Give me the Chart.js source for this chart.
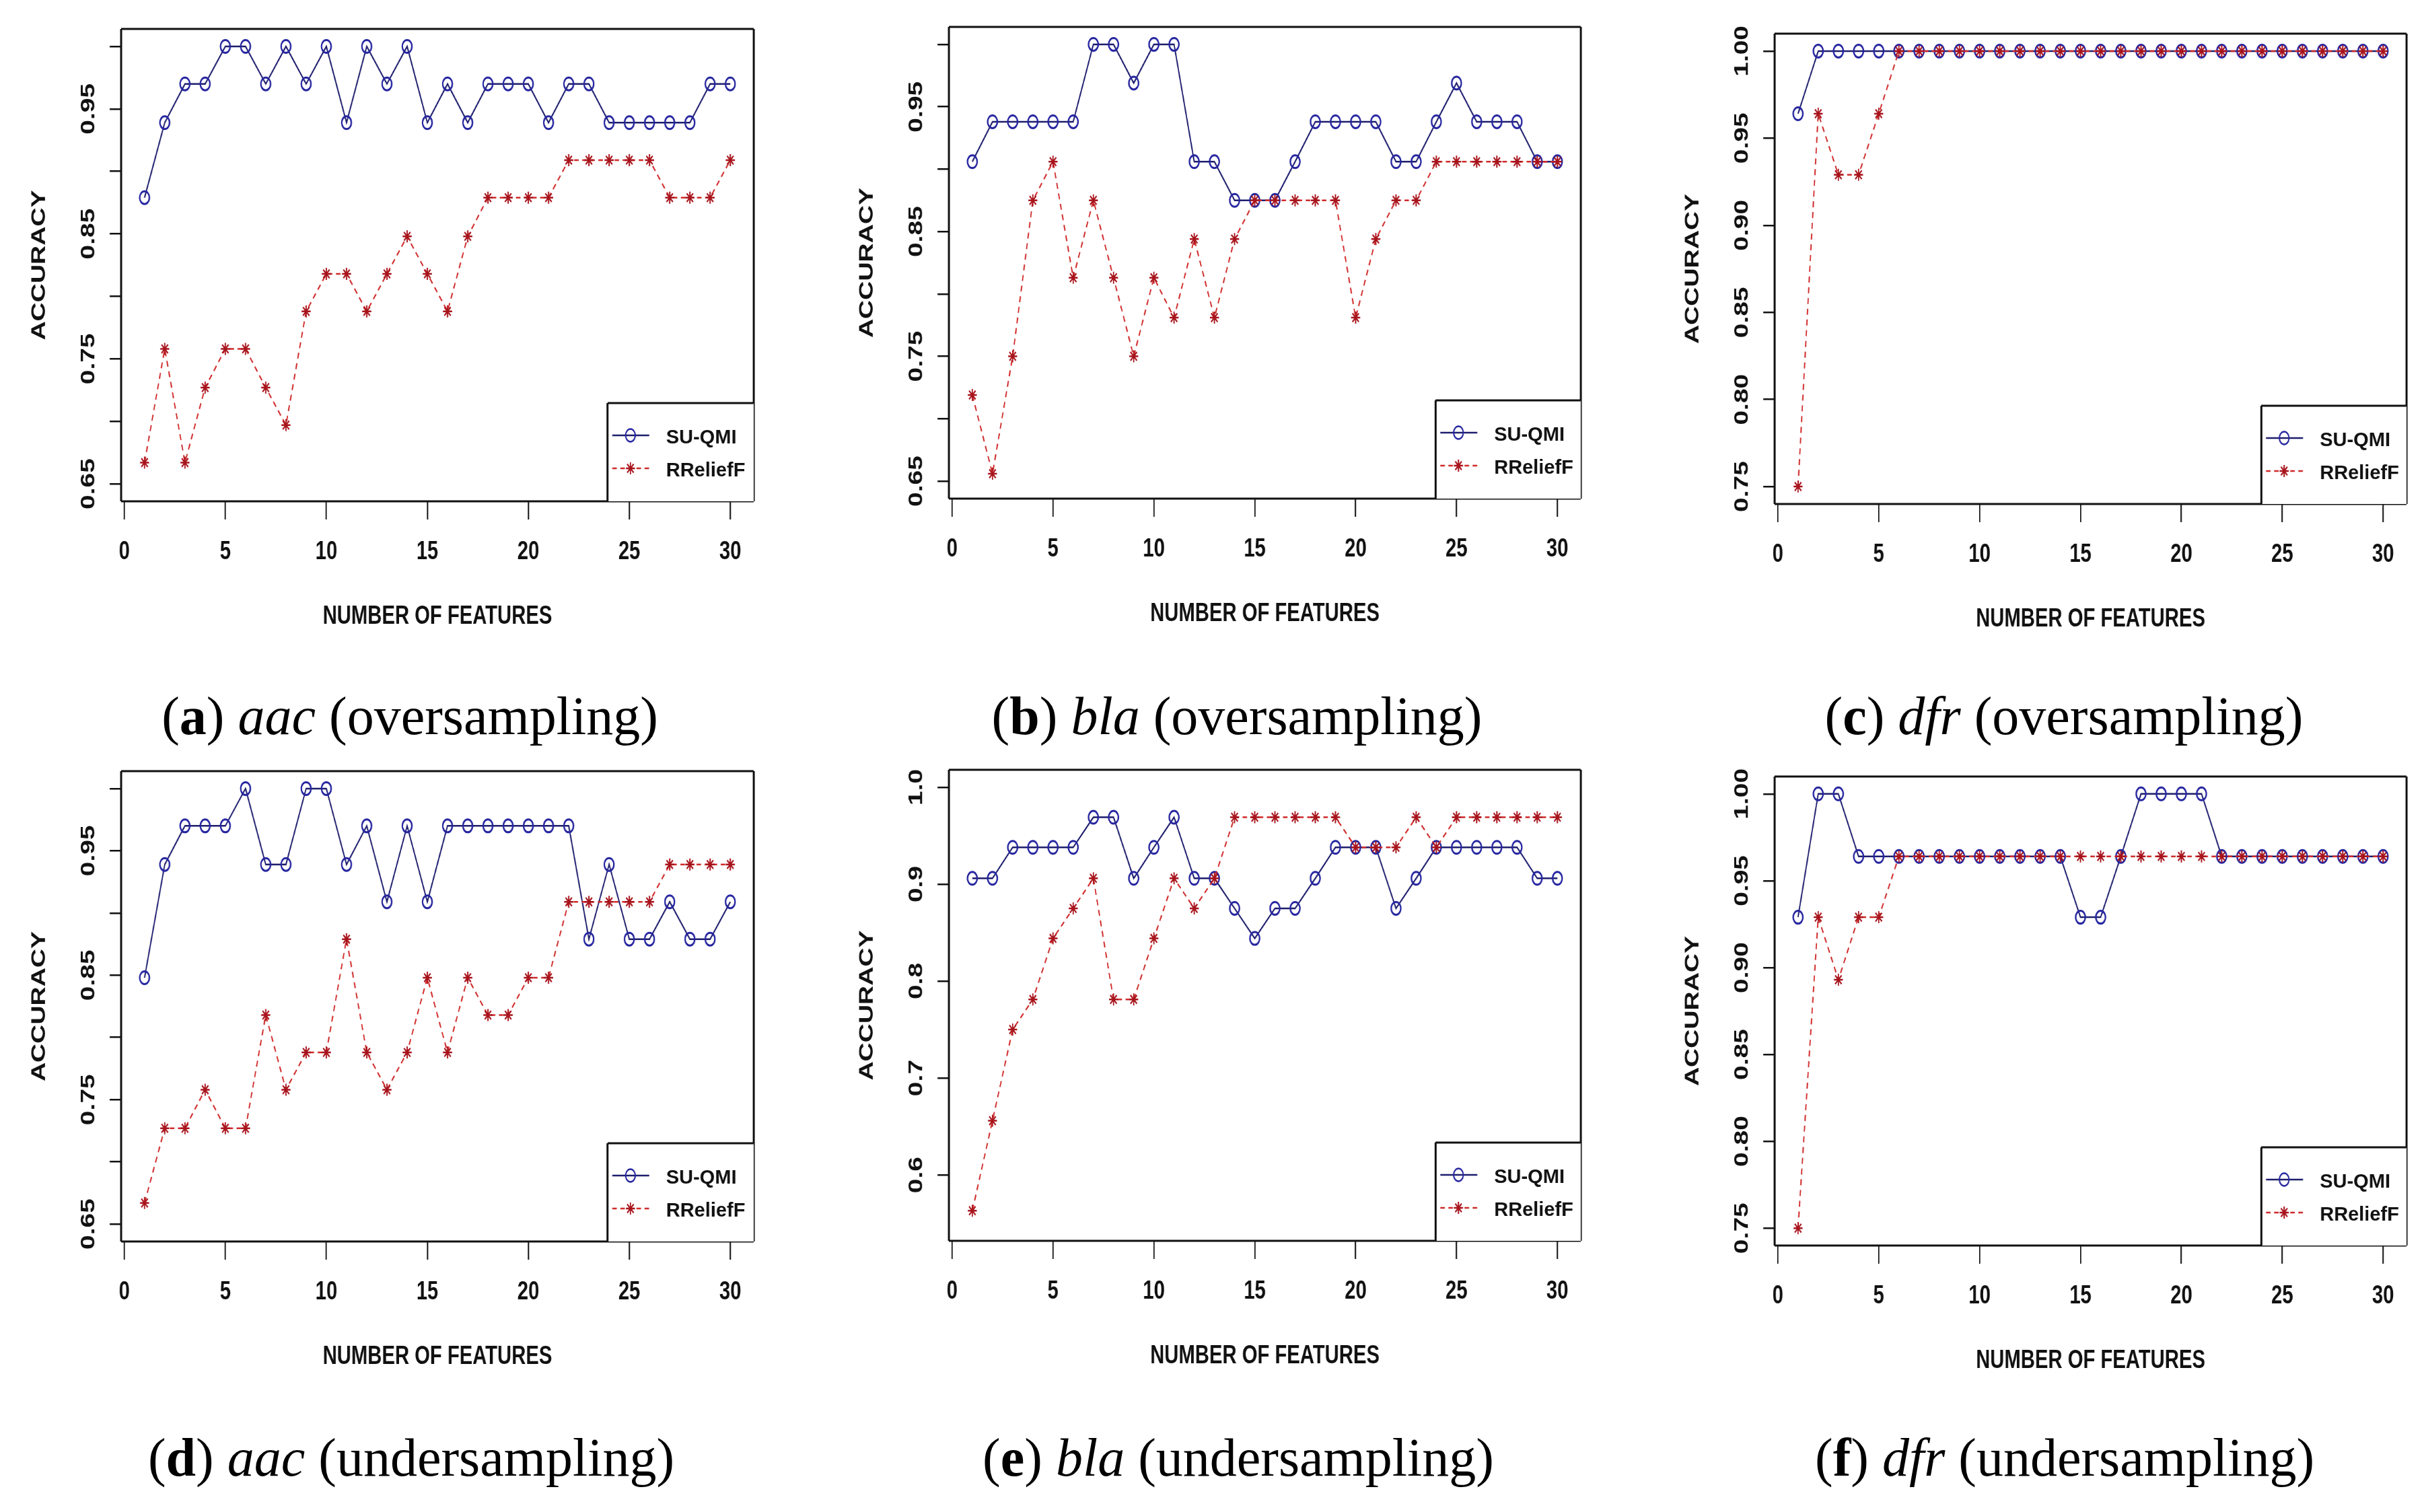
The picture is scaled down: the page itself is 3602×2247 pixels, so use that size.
<!DOCTYPE html>
<html><head><meta charset="utf-8">
<script src="https://cdn.jsdelivr.net/npm/chart.js@4.4.1/dist/chart.umd.min.js"></script>
<style>
html,body{margin:0;padding:0;background:#fff;width:3602px;height:2247px;overflow:hidden;position:relative}
.panel{position:absolute}
.panel canvas{display:block}
.cap{position:absolute;font-family:"Liberation Serif","Times New Roman",serif;font-size:80px;color:#000;white-space:nowrap;transform:translate(-50%,-50%);line-height:1}
</style></head><body>
<script>
// ---------- data ----------
const features = [1,2,3,4,5,6,7,8,9,10,11,12,13,14,15,16,17,18,19,20,21,22,23,24,25,26,27,28,29,30];
const seriesNames = ["SU-QMI", "RReliefF"];
const xTicks = [0,5,10,15,20,25,30];

const aacOverSU = [0.879,0.939,0.970,0.970,1.000,1.000,0.970,1.000,0.970,1.000,0.939,1.000,0.970,1.000,0.939,0.970,0.939,0.970,0.970,0.970,0.939,0.970,0.970,0.939,0.939,0.939,0.939,0.939,0.970,0.970];
const aacOverRR = [0.667,0.758,0.667,0.727,0.758,0.758,0.727,0.697,0.788,0.818,0.818,0.788,0.818,0.848,0.818,0.788,0.848,0.879,0.879,0.879,0.879,0.909,0.909,0.909,0.909,0.909,0.879,0.879,0.879,0.909];

const blaOverSU = [0.906,0.938,0.938,0.938,0.938,0.938,1.000,1.000,0.969,1.000,1.000,0.906,0.906,0.875,0.875,0.875,0.906,0.938,0.938,0.938,0.938,0.906,0.906,0.938,0.969,0.938,0.938,0.938,0.906,0.906];
const blaOverRR = [0.719,0.656,0.750,0.875,0.906,0.813,0.875,0.813,0.750,0.813,0.781,0.844,0.781,0.844,0.875,0.875,0.875,0.875,0.875,0.781,0.844,0.875,0.875,0.906,0.906,0.906,0.906,0.906,0.906,0.906];

const dfrOverSU = [0.964,1.000,1.000,1.000,1.000,1.000,1.000,1.000,1.000,1.000,1.000,1.000,1.000,1.000,1.000,1.000,1.000,1.000,1.000,1.000,1.000,1.000,1.000,1.000,1.000,1.000,1.000,1.000,1.000,1.000];
const dfrOverRR = [0.750,0.964,0.929,0.929,0.964,1.000,1.000,1.000,1.000,1.000,1.000,1.000,1.000,1.000,1.000,1.000,1.000,1.000,1.000,1.000,1.000,1.000,1.000,1.000,1.000,1.000,1.000,1.000,1.000,1.000];

const aacUnderSU = [0.848,0.939,0.970,0.970,0.970,1.000,0.939,0.939,1.000,1.000,0.939,0.970,0.909,0.970,0.909,0.970,0.970,0.970,0.970,0.970,0.970,0.970,0.879,0.939,0.879,0.879,0.909,0.879,0.879,0.909];
const aacUnderRR = [0.667,0.727,0.727,0.758,0.727,0.727,0.818,0.758,0.788,0.788,0.879,0.788,0.758,0.788,0.848,0.788,0.848,0.818,0.818,0.848,0.848,0.909,0.909,0.909,0.909,0.909,0.939,0.939,0.939,0.939];

const blaUnderSU = [0.906,0.906,0.938,0.938,0.938,0.938,0.969,0.969,0.906,0.938,0.969,0.906,0.906,0.875,0.844,0.875,0.875,0.906,0.938,0.938,0.938,0.875,0.906,0.938,0.938,0.938,0.938,0.938,0.906,0.906];
const blaUnderRR = [0.563,0.656,0.750,0.781,0.844,0.875,0.906,0.781,0.781,0.844,0.906,0.875,0.906,0.969,0.969,0.969,0.969,0.969,0.969,0.938,0.938,0.938,0.969,0.938,0.969,0.969,0.969,0.969,0.969,0.969];

const dfrUnderSU = [0.929,1.000,1.000,0.964,0.964,0.964,0.964,0.964,0.964,0.964,0.964,0.964,0.964,0.964,0.929,0.929,0.964,1.000,1.000,1.000,1.000,0.964,0.964,0.964,0.964,0.964,0.964,0.964,0.964,0.964];
const dfrUnderRR = [0.750,0.929,0.893,0.929,0.929,0.964,0.964,0.964,0.964,0.964,0.964,0.964,0.964,0.964,0.964,0.964,0.964,0.964,0.964,0.964,0.964,0.964,0.964,0.964,0.964,0.964,0.964,0.964,0.964,0.964];

// y tick marks and their labels ("" = unlabeled tick)
const yTicksA = [0.65,0.70,0.75,0.80,0.85,0.90,0.95,1.00];
const yLabelsA = ["0.65","","0.75","","0.85","","0.95",""];
const yTicksDfr = [0.75,0.80,0.85,0.90,0.95,1.00];
const yLabelsDfr = ["0.75","0.80","0.85","0.90","0.95","1.00"];
const yTicksE = [0.6,0.7,0.8,0.9,1.0];
const yLabelsE = ["0.6","0.7","0.8","0.9","1.0"];

const captionLetters = ["a","b","c","d","e","f"];
const captionSets = ["aac","bla","dfr","aac","bla","dfr"];
const captionModes = ["oversampling","oversampling","oversampling","undersampling","undersampling","undersampling"];

// ---------- layout ----------
const S = 0.75;           // horizontal compression of the original figure
const FONT = '"Liberation Sans", Arial, Helvetica, sans-serif';
const panels = [
  {L:180,  R:1120, T:43,   B:745,  su:aacOverSU,  rr:aacOverRR,  yMin:0.636, yMax:1.014, yt:yTicksA,   yl:yLabelsA,   cx:609,  cy:1064},
  {L:1410, R:2349, T:40,   B:741,  su:blaOverSU,  rr:blaOverRR,  yMin:0.636, yMax:1.014, yt:yTicksA,   yl:yLabelsA,   cx:1838, cy:1064},
  {L:2637, R:3576, T:50,   B:749,  su:dfrOverSU,  rr:dfrOverRR,  yMin:0.740, yMax:1.010, yt:yTicksDfr, yl:yLabelsDfr, cx:3067, cy:1064},
  {L:180,  R:1120, T:1146, B:1845, su:aacUnderSU, rr:aacUnderRR, yMin:0.636, yMax:1.014, yt:yTicksA,   yl:yLabelsA,   cx:611,  cy:2166},
  {L:1410, R:2349, T:1144, B:1844, su:blaUnderSU, rr:blaUnderRR, yMin:0.532, yMax:1.018, yt:yTicksE,   yl:yLabelsE,   cx:1840, cy:2166},
  {L:2637, R:3576, T:1154, B:1851, su:dfrUnderSU, rr:dfrUnderRR, yMin:0.740, yMax:1.010, yt:yTicksDfr, yl:yLabelsDfr, cx:3068, cy:2166}
];

const BLUE_LINE = '#1e1e6e', BLUE_PT = '#2626a0', RED_LINE = '#d02a2a', RED_PT = '#a8141c';

const rPlot = {
  id: 'rPlot',
  afterDraw(chart, args, opts) {
    const {ctx, chartArea: a} = chart;
    const ys = chart.scales.y;
    ctx.save();
    // y tick labels (rotated, as in R)
    ctx.fillStyle = '#111';
    ctx.font = 'bold 39px ' + FONT;
    ctx.textAlign = 'center';
    ctx.textBaseline = 'middle';
    opts.yt.forEach((v, i) => {
      const lab = opts.yl[i];
      if (!lab) return;
      const py = ys.getPixelForValue(v);
      ctx.save();
      ctx.translate(a.left - 49 / S, py);
      ctx.rotate(-Math.PI / 2);
      ctx.fillText(lab, 0, 2);
      ctx.restore();
    });
    // box
    ctx.strokeStyle = '#111';
    ctx.lineWidth = 3;
    ctx.beginPath();
    ctx.moveTo(a.left, a.top); ctx.lineTo(a.right, a.top);
    ctx.moveTo(a.left, a.bottom); ctx.lineTo(a.right, a.bottom);
    ctx.stroke();
    ctx.lineWidth = 3 / S;
    ctx.beginPath();
    ctx.moveTo(a.left, a.top); ctx.lineTo(a.left, a.bottom);
    ctx.moveTo(a.right, a.top); ctx.lineTo(a.right, a.bottom);
    ctx.stroke();
    // legend
    const lx = a.left + 723 / S, ly = a.bottom - 146;
    ctx.fillStyle = '#fff';
    ctx.fillRect(lx, ly, a.right - lx, a.bottom - ly);
    ctx.lineWidth = 3;
    ctx.beginPath();
    ctx.moveTo(lx, ly); ctx.lineTo(a.right, ly);
    ctx.stroke();
    ctx.lineWidth = 3 / S;
    ctx.beginPath();
    ctx.moveTo(lx, ly); ctx.lineTo(lx, a.bottom);
    ctx.stroke();
    const rows = [
      {y: ly + 48, color: BLUE_LINE, pc: BLUE_PT, dash: [], style: 'circle', r: 9.5, bw: 3, name: opts.names[0]},
      {y: ly + 97, color: RED_LINE, pc: RED_PT, dash: [9, 7], style: 'star', r: 9, bw: 2.5, name: opts.names[1]}
    ];
    rows.forEach(row => {
      ctx.strokeStyle = row.color;
      ctx.lineWidth = 2.5;
      ctx.setLineDash(row.dash);
      ctx.beginPath();
      ctx.moveTo(lx + 7 / S, row.y); ctx.lineTo(lx + 62 / S, row.y);
      ctx.stroke();
      ctx.setLineDash([]);
      ctx.strokeStyle = row.pc;
      ctx.fillStyle = 'rgba(0,0,0,0)';
      Chart.helpers.drawPoint(ctx, {pointStyle: row.style, radius: row.r, borderWidth: row.bw, rotation: 0}, lx + 34 / S, row.y);
      ctx.save();
      ctx.translate(lx + 87 / S, row.y + 4);
      ctx.scale(1 / S, 1);
      ctx.fillStyle = '#111';
      ctx.font = 'bold 29px ' + FONT;
      ctx.textAlign = 'left';
      ctx.textBaseline = 'middle';
      ctx.fillText(row.name, 0, 0);
      ctx.restore();
    });
    ctx.restore();
  }
};

panels.forEach((p, idx) => {
  const left = p.L - 180, top = p.T - 43;
  const cssW = (p.R + 25) - left;
  const cssH = (p.B + 235) - top;
  const div = document.createElement('div');
  div.className = 'panel';
  div.style.left = left + 'px';
  div.style.top = top + 'px';
  const cv = document.createElement('canvas');
  cv.width = Math.round(cssW / S);
  cv.height = cssH;
  cv.style.width = cssW + 'px';
  cv.style.height = cssH + 'px';
  div.appendChild(cv);
  document.body.appendChild(div);

  const suPts = features.map((f, i) => ({x: f, y: p.su[i]}));
  const rrPts = features.map((f, i) => ({x: f, y: p.rr[i]}));

  new Chart(cv.getContext('2d'), {
    type: 'line',
    data: {
      datasets: [
        {label: seriesNames[0], data: suPts, order: 1, borderColor: BLUE_LINE, borderWidth: 2.5, tension: 0,
         pointStyle: 'circle', pointRadius: 9.5, pointBorderWidth: 3, pointBorderColor: BLUE_PT, pointBackgroundColor: 'rgba(0,0,0,0)'},
        {label: seriesNames[1], data: rrPts, order: 0, borderColor: RED_LINE, borderWidth: 2.5, borderDash: [9, 7], tension: 0,
         pointStyle: 'star', pointRadius: 9, pointBorderWidth: 2.5, pointBorderColor: RED_PT, pointBackgroundColor: RED_PT}
      ]
    },
    options: {
      responsive: false,
      animation: false,
      devicePixelRatio: 1,
      layout: {padding: {top: p.T - top, right: 25 / S, left: 0, bottom: 0}},
      plugins: {legend: {display: false}, tooltip: {enabled: false}, rPlot: {yt: p.yt, yl: p.yl, names: seriesNames}},
      scales: {
        x: {
          type: 'linear', min: -0.16, max: 31.16,
          afterBuildTicks: s => { s.ticks = xTicks.map(v => ({value: v})); },
          afterFit: s => { s.height = 235; },
          grid: {drawOnChartArea: false, drawTicks: true, tickLength: 27, color: '#111', lineWidth: 2.5},
          border: {display: false},
          ticks: {color: '#111', padding: 25, font: {family: FONT, size: 39, weight: 'bold'}, maxRotation: 0, autoSkip: false,
                  callback: v => String(v)},
          title: {display: true, text: 'NUMBER OF FEATURES', color: '#111', font: {family: FONT, size: 39, weight: 'bold'}, padding: {top: 0, bottom: 40}}
        },
        y: {
          type: 'linear', min: p.yMin, max: p.yMax,
          afterBuildTicks: s => { s.ticks = p.yt.map(v => ({value: v})); },
          afterFit: s => { s.width = 180 / S; },
          grid: {drawOnChartArea: false, drawTicks: true, tickLength: 17 / S, color: '#111', lineWidth: 2.5},
          border: {display: false},
          ticks: {display: false},
          title: {display: true, text: 'ACCURACY', color: '#111', font: {family: FONT, size: 39, weight: 'bold'}, padding: {top: 55, bottom: 0}}
        }
      }
    },
    plugins: [rPlot]
  });

  const cap = document.createElement('div');
  cap.className = 'cap';
  cap.style.left = p.cx + 'px';
  cap.style.top = p.cy + 'px';
  cap.innerHTML = '(<b>' + captionLetters[idx] + '</b>) <i>' + captionSets[idx] + '</i> (' + captionModes[idx] + ')';
  document.body.appendChild(cap);
});
</script>
</body></html>
